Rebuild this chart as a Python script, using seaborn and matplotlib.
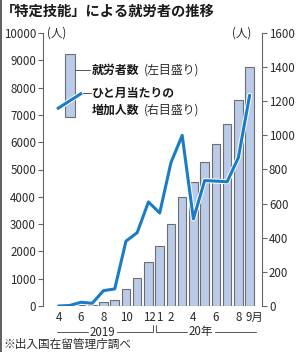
import matplotlib
matplotlib.use("Agg")
import matplotlib.pyplot as plt
import matplotlib.patheffects as pe
import matplotlib.transforms as mtrans
from matplotlib.lines import Line2D
from matplotlib.patches import Rectangle
import seaborn as sns
import pandas as pd
import numpy as np

sns.set_style("white")
plt.rcParams['font.family'] = ['Noto Sans CJK JP', 'DejaVu Sans']

# ---- data ----
months = ["2019-04", "2019-05", "2019-06", "2019-07", "2019-08", "2019-09",
          "2019-10", "2019-11", "2019-12", "2020-01", "2020-02", "2020-03",
          "2020-04", "2020-05", "2020-06", "2020-07", "2020-08", "2020-09"]
workers = [0, 0, 20, 40, 140, 220, 620, 1020, 1620, 2180, 3000, 4000,
           4530, 5270, 5950, 6680, 7560, 8770]
monthly_increase = [0, 3, 22, 16, 90, 100, 380, 430, 610, 545, 840, 1000,
                    510, 735, 732, 728, 870, 1235]
tick_months = ["4", "6", "8", "10", "12", "1", "2", "4", "6", "8", "9月"]
tick_index = [0, 2, 4, 6, 8, 9, 10, 12, 14, 16, 17]
left_ticks = [0, 1000, 2000, 3000, 4000, 5000, 6000, 7000, 8000, 9000, 10000]
right_ticks = [0, 200, 400, 600, 800, 1000, 1200, 1400, 1600]

df = pd.DataFrame({"month": months, "workers": workers,
                   "increase": monthly_increase, "pos": np.arange(len(months))})

W, H = 300, 352
fig = plt.figure(figsize=(W / 100, H / 100), dpi=100)
fig.patch.set_facecolor("white")

def fx(px):
    return px / W

def fy(py):
    return 1 - py / H

ax = fig.add_axes([fx(43), fy(306), fx(262) - fx(43), fy(33) - fy(306)])
ax.set_facecolor("none")

sns.barplot(data=df, x="month", y="workers", ax=ax, color="#b9cbe8",
            edgecolor="#6e6e6e", linewidth=0.8, width=0.76, saturation=1)
ax.set_ylim(0, 10000)
ax.set_xlim(-1.38, 18.1)
ax.set_yticks(left_ticks)
ax.set_yticklabels([str(t) for t in left_ticks])
ax.set_xticks(tick_index)
ax.set_xticklabels(tick_months)
ax.set_xlabel("")
ax.set_ylabel("")

ax2 = ax.twinx()
sns.lineplot(data=df, x="pos", y="increase", ax=ax2, color="#1b7cc6",
             linewidth=2.2, zorder=5,
             path_effects=[pe.Stroke(linewidth=3.6, foreground="white"), pe.Normal()])
ax2.set_ylim(0, 1600)
ax2.set_xlim(-1.38, 18.1)
ax2.set_yticks(right_ticks)
ax2.set_yticklabels([str(t) for t in right_ticks])
ax2.set_ylabel("")
ax2.set_xlabel("")

for a in (ax, ax2):
    for s in ("top", "bottom"):
        a.spines[s].set_visible(False)
ax.spines["right"].set_visible(False)
ax2.spines["left"].set_visible(False)
ax.spines["left"].set_color("#666666")
ax2.spines["right"].set_color("#666666")
ax.spines["left"].set_linewidth(0.8)
ax2.spines["right"].set_linewidth(0.8)

ax.tick_params(axis="y", which="both", left=True, length=3.5, width=0.8,
               color="#666666", labelsize=8.3, labelcolor="#2a2a2a", pad=1.5)
ax2.tick_params(axis="y", which="both", right=True, length=3.5, width=0.8,
                color="#666666", labelsize=8.3, labelcolor="#2a2a2a", pad=1.5)
ax.tick_params(axis="x", bottom=False, labelsize=8.3, labelcolor="#2a2a2a", pad=0.3)

labels = ax.get_xticklabels()
offset = mtrans.ScaledTranslation(-4 / 100, 0, fig.dpi_scale_trans)
labels[-1].set_horizontalalignment("left")
labels[-1].set_transform(labels[-1].get_transform() + offset)
off12 = mtrans.ScaledTranslation(1.0 / 100, 0, fig.dpi_scale_trans)
labels[4].set_transform(labels[4].get_transform() + off12)

# ---- title & unit labels ----
fig.text(fx(1), fy(12), "「特定技能」による就労者の推移", fontsize=10.3,
         fontweight="bold", ha="left", va="center", color="#1a1a1a")
fig.text(fx(47), fy(33), "(人)", fontsize=8.3, ha="left", va="center", color="#2a2a2a")
fig.text(fx(251), fy(33), "(人)", fontsize=8.3, ha="right", va="center", color="#2a2a2a")

# ---- legend ----
fig.add_artist(Rectangle((fx(65), fy(117)), fx(75) - fx(65), fy(54) - fy(117),
                         transform=fig.transFigure, facecolor="#b9cbe8",
                         edgecolor="#6e6e6e", linewidth=0.8))
fig.add_artist(Line2D([fx(57), fx(82)], [fy(109), fy(93)], transform=fig.transFigure,
                      color="#1b7cc6", linewidth=2.2, solid_capstyle="butt",
                      path_effects=[pe.Stroke(linewidth=3.6, foreground="white"), pe.Normal()]))
fig.add_artist(Line2D([fx(75), fx(90)], [fy(70), fy(70)], transform=fig.transFigure,
                      color="#555555", linewidth=0.7))
fig.add_artist(Line2D([fx(83), fx(91)], [fy(93), fy(93)], transform=fig.transFigure,
                      color="#555555", linewidth=0.7))
fig.text(fx(92), fy(70), "就労者数", fontsize=8.6, fontweight="bold",
         ha="left", va="center", color="#1a1a1a")
fig.text(fx(144), fy(70), "(左目盛り)", fontsize=8.6, ha="left", va="center",
         color="#2a2a2a")
fig.text(fx(92), fy(93), "ひと月当たりの", fontsize=8.6, fontweight="bold",
         ha="left", va="center", color="#1a1a1a")
fig.text(fx(92), fy(110), "増加人数", fontsize=8.6, fontweight="bold",
         ha="left", va="center", color="#1a1a1a")
fig.text(fx(144), fy(110), "(右目盛り)", fontsize=8.6, ha="left", va="center",
         color="#2a2a2a")

# ---- year brackets ----
lc = "#555555"
def fline(xs, ys):
    fig.add_artist(Line2D([fx(x) for x in xs], [fy(y) for y in ys],
                          transform=fig.transFigure, color=lc, linewidth=0.7))

fline([57, 88], [332, 332])
fline([117, 152.5, 152.5], [332, 332, 325])
fline([156.5, 156.5, 187], [325, 332, 332])
fline([215, 256], [332, 332])
fig.text(fx(102.5), fy(332), "2019", fontsize=8.3, ha="center", va="center", color="#2a2a2a")
fig.text(fx(201), fy(332), "20年", fontsize=8.3, ha="center", va="center", color="#2a2a2a")

fig.text(fx(3), fy(344.5), "※出入国在留管理庁調べ", fontsize=8.4, ha="left",
         va="center", color="#2a2a2a")

# left frame border
fig.add_artist(Line2D([fx(0.8), fx(0.8)], [0, 1], transform=fig.transFigure,
                      color="#444444", linewidth=1.2))

fig.savefig("out.png", dpi=100, facecolor="white")
